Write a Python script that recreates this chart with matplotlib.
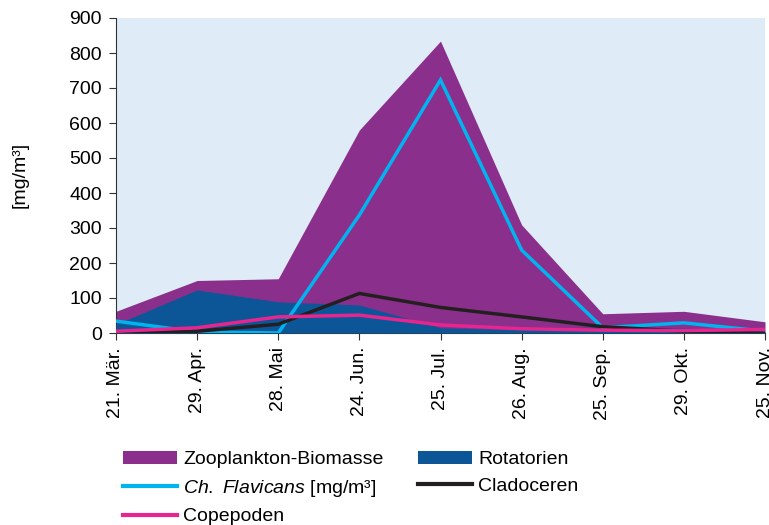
import matplotlib
matplotlib.use("Agg")
import matplotlib.pyplot as plt
from matplotlib.patches import Patch
from matplotlib.lines import Line2D

dates = ["21. Mär.", "29. Apr.", "28. Mai", "24. Jun.", "25. Jul.", "26. Aug.", "25. Sep.", "29. Okt.", "25. Nov."]
zooplankton = [62, 150, 155, 580, 834, 309, 55, 62, 32]
rotatorien = [25, 123, 89, 80, 15, 10, 18, 15, 5]
flavicans = [34, 3, 0, 337, 723, 237, 15, 29, 5]
cladoceren = [0, 5, 25, 113, 73, 46, 18, 5, 0]
copepoden = [5, 15, 46, 51, 23, 12, 8, 7, 10]
yticks = [0, 100, 200, 300, 400, 500, 600, 700, 800, 900]

plt.rcParams['font.family'] = ['Liberation Sans', 'DejaVu Sans']
plt.rcParams['mathtext.fontset'] = 'custom'
plt.rcParams['mathtext.it'] = 'Liberation Sans:italic'
plt.rcParams['mathtext.rm'] = 'Liberation Sans'

FS = 14
fig = plt.figure(figsize=(7.69, 5.25), dpi=100)
ax = fig.add_axes([116/769, 1-333/525, (765-116)/769, (333-18)/525])
ax.set_facecolor('#DFECF7')
x = list(range(len(dates)))

ax.fill_between(x, 0, zooplankton, color='#8B2F8C', lw=0, zorder=2)
ax.fill_between(x, 0, rotatorien, color='#0C5697', lw=0, zorder=3)
ax.plot(x, flavicans, color='#00B4EF', lw=2.5, zorder=4, solid_joinstyle='miter')
ax.plot(x, cladoceren, color='#231F20', lw=2.5, zorder=5, solid_joinstyle='miter')
ax.plot(x, copepoden, color='#E6258E', lw=2.5, zorder=6, solid_joinstyle='miter')

ax.set_xlim(0, len(dates)-1)
ax.set_ylim(0, 900)
ax.set_yticks(yticks)
ax.set_xticks(x)
ax.set_xticklabels(dates, rotation=90, fontsize=FS)
ax.tick_params(axis='y', labelsize=FS, direction='out', length=5, color='#333333', pad=5)
ax.tick_params(axis='x', direction='out', length=5, color='#333333', pad=5)
for s in ['top', 'right']:
    ax.spines[s].set_visible(False)
ax.spines['left'].set_color('#333333')
ax.spines['bottom'].set_color('#333333')

fig.text(20/769, 1-175/525, '[mg/m³]', rotation=90, fontsize=FS, ha='center', va='center')

handles = [
    Patch(facecolor='#8B2F8C'),
    Line2D([0], [0], color='#00B4EF', lw=3),
    Line2D([0], [0], color='#E6258E', lw=3),
    Patch(facecolor='#0C5697'),
    Line2D([0], [0], color='#231F20', lw=3),
]
labels = ['Zooplankton-Biomasse', r'$\mathit{Ch.\ Flavicans}$ [mg/m³]', 'Copepoden', 'Rotatorien', 'Cladoceren']
fig.legend(handles, labels, ncol=2, loc='upper left', bbox_to_anchor=(123/769, 1-451/525),
           frameon=False, fontsize=FS, handlelength=2.8, handleheight=0.65,
           labelspacing=0.48, columnspacing=1.75, handletextpad=0.3,
           borderpad=0, borderaxespad=0)

fig.savefig('out.png', dpi=100)
